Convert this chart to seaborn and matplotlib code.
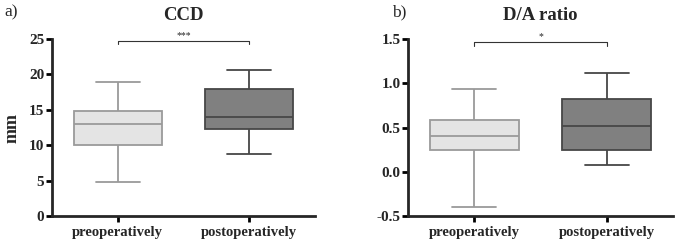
import numpy as np
import pandas as pd
import matplotlib
matplotlib.use('Agg')
import matplotlib.pyplot as plt
import seaborn as sns

# five-number summaries: min, Q1, median, Q3, max
groups = ['preoperatively', 'postoperatively']
ccd_pre = [4.85, 10.0, 13.0, 14.9, 19.0]
ccd_post = [8.75, 12.3, 14.0, 18.0, 20.6]
da_pre = [-0.40, 0.245, 0.41, 0.58, 0.935]
da_post = [0.08, 0.245, 0.52, 0.82, 1.12]

fills = ['#e4e4e4', '#808080']
edges = ['#9a9a9a', '#474747']

sns.set_style('ticks')
plt.rcParams['font.family'] = ['Liberation Serif', 'DejaVu Serif']

def to_frame(pre, post):
	return pd.DataFrame({'group': [groups[0]] * len(pre) + [groups[1]] * len(post),
		'value': pre + post})

def draw_panel(ax, df, ylim, yticks, fmt, bracket, stars):
	sns.boxplot(data=df, x='group', y='value', order=groups, hue='group',
		palette=fills, whis=(0, 100), width=0.67, ax=ax, legend=False,
		linewidth=1.3)
	# recolour edges per box
	for i, patch in enumerate(ax.patches):
		patch.set_edgecolor(edges[i])
	for i in range(2):
		for line in ax.lines[i * 6:(i + 1) * 6]:
			line.set_color(edges[i])
			line.set_linewidth(1.3)
	ax.set_xlim(-0.5, 1.5)
	ax.set_ylim(*ylim)
	ax.set_yticks(yticks)
	ax.set_yticklabels([fmt.format(t) for t in yticks], fontweight='bold', fontsize=11)
	ax.set_xticks([0, 1])
	ax.set_xticklabels(groups, fontweight='bold', fontsize=10.5)
	ax.set_xlabel('')
	sns.despine(ax=ax)
	for s in ['left', 'bottom']:
		ax.spines[s].set_linewidth(2)
	ax.tick_params(width=2, length=4, pad=1.5, color='black')
	ax.tick_params(axis='x', pad=3)
	y0, h = bracket
	ax.plot([0, 0, 1, 1], [y0 - h, y0, y0, y0 - h], color='#333333', lw=0.8, clip_on=False)
	ax.text(0.5, y0 + h * 0.4, stars, ha='center', va='bottom', fontsize=7)

fig = plt.figure(figsize=(6.78, 2.41), dpi=100)
ax1 = fig.add_axes([0.0767, 0.1037, 0.388, 0.734])
ax2 = fig.add_axes([0.6018, 0.1037, 0.391, 0.734])

draw_panel(ax1, to_frame(ccd_pre, ccd_post), (0, 25), [0, 5, 10, 15, 20, 25],
	'{:g}', (24.7, 0.45), '***')
ax1.set_ylabel('mm', fontweight='bold', fontsize=13, labelpad=6)

draw_panel(ax2, to_frame(da_pre, da_post), (-0.5, 1.5), [-0.5, 0.0, 0.5, 1.0, 1.5],
	'{:.1f}', (1.465, 0.04), '*')
ax2.set_ylabel('')

ax1.set_title('CCD', fontweight='bold', fontsize=13.5, pad=14)
ax2.set_title('D/A ratio', fontweight='bold', fontsize=13.5, pad=14)
fig.text(0.006, 0.95, 'a)', fontsize=12.5, va='center')
fig.text(0.578, 0.95, 'b)', fontsize=12.5, va='center')

fig.savefig('out.png', dpi=100)
